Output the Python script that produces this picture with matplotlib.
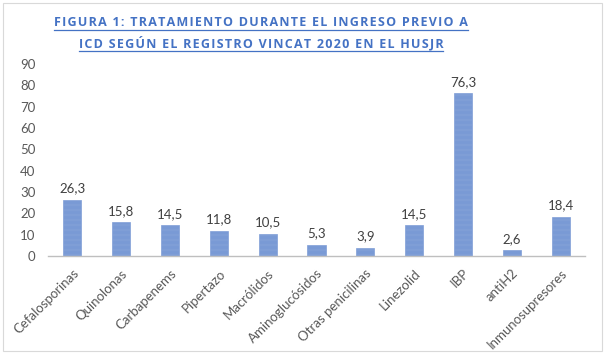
import matplotlib.pyplot as plt
from matplotlib.patches import Rectangle
from matplotlib.lines import Line2D

categories = ['Cefalosporinas', 'Quinolonas', 'Carbapenems', 'Pipertazo', 'Macrólidos',
              'Aminoglucósidos', 'Otras penicilinas', 'Linezolid', 'IBP', 'antiH2',
              'Inmunosupresores']
values = [26.3, 15.8, 14.5, 11.8, 10.5, 5.3, 3.9, 14.5, 76.3, 2.6, 18.4]
yticks = [0, 10, 20, 30, 40, 50, 60, 70, 80, 90]
title_lines = ['FIGURA 1: TRATAMIENTO DURANTE EL INGRESO PREVIO A',
               'ICD SEGÚN EL REGISTRO VINCAT 2020 EN EL HUSJR']

W, H = 604, 355
plt.rcParams['hatch.linewidth'] = 0.3
fig = plt.figure(figsize=(W / 100, H / 100), dpi=100)
ax = fig.add_axes([48 / W, 1 - 256 / H, (585 - 48) / W, (256 - 64) / H])

blue = '#4472C4'
x = list(range(len(categories)))
ax.bar(x, values, width=0.37, color=blue, edgecolor='#8faadc', linewidth=0.5,
       hatch='-' * 30)
for xi, v in zip(x, values):
    ax.text(xi, v + 2.5, f'{v:.1f}'.replace('.', ','), ha='center', va='bottom',
            fontsize=9.5, color='#404040', family='Lato')

ax.set_xlim(-0.5, len(categories) - 0.5)
ax.set_ylim(0, 90)
ax.set_yticks(yticks)
ax.set_xticks(x)
ax.set_xticklabels(categories, rotation=45, ha='right', rotation_mode='anchor',
                   fontsize=9.5, color='#595959', family='Lato')
for lab in ax.get_yticklabels():
    lab.set_fontsize(9.5)
    lab.set_color('#595959')
    lab.set_family('Lato')
ax.tick_params(axis='both', length=0)
ax.tick_params(axis='y', pad=9)
ax.tick_params(axis='x', pad=8)
for s in ['top', 'right', 'left']:
    ax.spines[s].set_visible(False)
ax.spines['bottom'].set_color('#bfbfbf')
ax.spines['bottom'].set_linewidth(1.0)

# title, underlined, with a little letter spacing
renderer = fig.canvas.get_renderer()
for line, yc in zip(title_lines, [22, 43]):
    spaced = '\u200a'.join(line)
    t = fig.text(261 / W, 1 - yc / H, spaced, ha='center', va='center', fontsize=9,
                 fontweight='bold', color=blue, family=['Open Sans', 'DejaVu Sans'])
    bb = t.get_window_extent(renderer)
    yu = bb.y0 - 1
    fig.add_artist(Line2D([bb.x0 / W, bb.x1 / W], [yu / H, yu / H], color=blue,
                          linewidth=0.9))

# outer frame
fig.add_artist(Rectangle((3 / W, 1 - 351 / H), (602 - 3) / W, (351 - 3) / H,
                         transform=fig.transFigure, fill=False, edgecolor='#d9d9d9',
                         linewidth=0.8))

fig.savefig('out.png', dpi=100)
